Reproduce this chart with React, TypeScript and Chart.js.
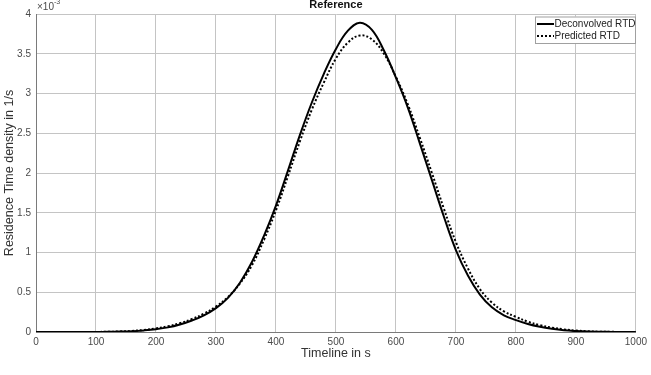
import React, { useEffect, useRef } from "react";
import { Chart, registerables } from "chart.js";

Chart.register(...registerables);

// Time axis (s)
const timeS = [
  0, 20, 40, 60, 80, 100, 120, 140, 160, 180, 200, 220, 240, 260, 280, 300, 320, 340, 360, 380,
  400, 420, 440, 460, 480, 500, 520, 540, 560, 580, 600, 620, 640, 660, 680, 700, 720, 740, 760, 780,
  800, 820, 840, 860, 880, 900, 920, 940, 960, 980, 1000,
];

// Residence time density, in units of 1e-3 1/s
const deconvolvedRTD = [
  0, 0, 0, 0, 0, 0.001, 0.002, 0.005, 0.01, 0.02, 0.035, 0.058, 0.095, 0.145, 0.21, 0.3, 0.43, 0.62, 0.88, 1.21,
  1.59, 2.03, 2.48, 2.89, 3.25, 3.56, 3.79, 3.89, 3.8, 3.54, 3.2, 2.82, 2.37, 1.91, 1.45, 1.03, 0.71, 0.47, 0.31, 0.21,
  0.15, 0.1, 0.065, 0.04, 0.022, 0.012, 0.006, 0.003, 0.001, 0, 0,
];

const predictedRTD = [
  0, 0, 0, 0, 0, 0.001, 0.003, 0.007, 0.014, 0.026, 0.045, 0.072, 0.11, 0.163, 0.23, 0.32, 0.44, 0.61, 0.84, 1.16,
  1.53, 1.96, 2.4, 2.8, 3.14, 3.44, 3.64, 3.73, 3.68, 3.5, 3.21, 2.86, 2.44, 2.0, 1.55, 1.13, 0.8, 0.54, 0.37, 0.26,
  0.19, 0.13, 0.085, 0.055, 0.033, 0.018, 0.009, 0.004, 0.002, 0.001, 0,
];

const seriesLabels = ["Deconvolved RTD", "Predicted RTD"];
const chartTitle = "Reference";
const xAxisTitle = "Timeline in s";
const yAxisTitle = "Residence Time density in 1/s";
const yExponent = "-3";

const FONT = "'Liberation Sans', Arial, Helvetica, sans-serif";
const GRID = "#c4c4c4";
const TICK = "#4a4a4a";

const overlayPlugin = {
  id: "overlay",
  afterDraw(chart: any) {
    const { ctx, chartArea } = chart;
    const cx = (chartArea.left + chartArea.right) / 2;
    ctx.save();
    // Title
    ctx.fillStyle = "#111";
    ctx.font = `bold 11px ${FONT}`;
    ctx.textAlign = "center";
    ctx.textBaseline = "middle";
    ctx.fillText(chartTitle, cx, 5);
    // X title
    ctx.fillStyle = "#333";
    ctx.font = `12.5px ${FONT}`;
    ctx.fillText(xAxisTitle, cx, 354);
    // Y title
    ctx.save();
    ctx.translate(10, (chartArea.top + chartArea.bottom) / 2);
    ctx.rotate(-Math.PI / 2);
    ctx.font = `12.5px ${FONT}`;
    ctx.fillText(yAxisTitle, 0, 0);
    ctx.restore();
    // Exponent
    ctx.fillStyle = TICK;
    ctx.textAlign = "left";
    ctx.font = `10px ${FONT}`;
    ctx.fillText("\u00d710", chartArea.left + 1, 7);
    const w = ctx.measureText("\u00d710").width;
    ctx.font = `7px ${FONT}`;
    ctx.fillText(yExponent, chartArea.left + 1 + w, 2.5);

    // Legend
    const bx = 535, by = 16.5, bw = 100, bh = 26.5;
    ctx.fillStyle = "#fff";
    ctx.fillRect(bx, by, bw, bh);
    ctx.strokeStyle = "#a0a0a0";
    ctx.lineWidth = 1;
    ctx.strokeRect(bx + 0.5, by + 0.5, bw, bh);
    const rows = [by + 7.5, by + 19.5];
    chart.data.datasets.forEach((ds: any, i: number) => {
      const y = rows[i];
      ctx.beginPath();
      ctx.strokeStyle = "#000";
      ctx.lineWidth = 2;
      ctx.setLineDash(ds.borderDash || []);
      ctx.moveTo(bx + 2, y);
      ctx.lineTo(bx + 19, y);
      ctx.stroke();
      ctx.setLineDash([]);
      ctx.fillStyle = "#222";
      ctx.font = `10px ${FONT}`;
      ctx.textAlign = "left";
      ctx.textBaseline = "middle";
      ctx.fillText(ds.label, bx + 19.5, y);
    });
    ctx.restore();
  },
};

export default function App() {
  const ref = useRef<HTMLCanvasElement | null>(null);

  useEffect(() => {
    if (!ref.current) return;
    const chart = new Chart(ref.current, {
      type: "line",
      data: {
        datasets: [
          {
            label: seriesLabels[0],
            data: timeS.map((t, i) => ({ x: t, y: deconvolvedRTD[i] })),
            borderColor: "#000",
            borderWidth: 2,
            pointRadius: 0,
            tension: 0.4,
            order: 2,
          },
          {
            label: seriesLabels[1],
            data: timeS.map((t, i) => ({ x: t, y: predictedRTD[i] })),
            borderColor: "#000",
            borderWidth: 2,
            borderDash: [2, 2],
            pointRadius: 0,
            tension: 0.4,
            order: 1,
          },
        ],
      },
      options: {
        animation: false,
        responsive: false,
        layout: { padding: { top: 14, right: 11, left: 0, bottom: 0 } },
        plugins: {
          legend: { display: false },
          title: { display: false },
          tooltip: { enabled: false },
        },
        scales: {
          x: {
            type: "linear",
            min: 0,
            max: 1000,
            ticks: {
              stepSize: 100,
              padding: 4,
              color: TICK,
              font: { family: FONT, size: 10 },
              maxRotation: 0,
              callback: (v: any) => String(v),
            },
            grid: { color: GRID, drawTicks: false },
            border: { color: "#7a7a7a" },
            afterFit: (s: any) => {
              s.height = 43;
            },
          },
          y: {
            type: "linear",
            min: 0,
            max: 4,
            ticks: {
              stepSize: 0.5,
              padding: 5,
              color: TICK,
              font: { family: FONT, size: 10 },
              callback: (v: any) => String(Math.round(v * 10) / 10),
            },
            grid: { color: GRID, drawTicks: false },
            border: { color: "#7a7a7a" },
            afterFit: (s: any) => {
              s.width = 36;
            },
          },
        },
      },
      plugins: [overlayPlugin],
    } as any);
    return () => chart.destroy();
  }, []);

  return (
    <div style={{ position: "absolute", left: 0, top: 0, width: 651, height: 375, background: "#fff" }}>
      <canvas ref={ref} width={651} height={375} style={{ display: "block" }} />
    </div>
  );
}
